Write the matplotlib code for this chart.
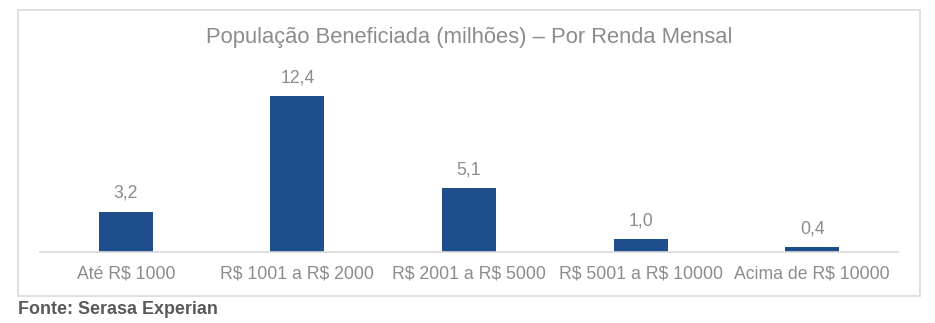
import matplotlib
matplotlib.use("Agg")
import matplotlib.pyplot as plt
from matplotlib.patches import Rectangle

categories = ["Até R$ 1000", "R$ 1001 a R$ 2000", "R$ 2001 a R$ 5000",
              "R$ 5001 a R$ 10000", "Acima de R$ 10000"]
values = [3.2, 12.4, 5.1, 1.0, 0.4]
title = "População Beneficiada (milhões) – Por Renda Mensal"
source = "Fonte: Serasa Experian"

plt.rcParams["font.family"] = ["Liberation Sans", "DejaVu Sans"]
plt.rcParams["text.parse_math"] = False

W, H = 935, 323
fig = plt.figure(figsize=(W / 100, H / 100), dpi=100)

def fx(px):
    return px / W

def fy(py):
    return 1 - py / H

# chart frame
fig.patches.append(Rectangle((fx(18), fy(296)), fx(920) - fx(18), fy(10) - fy(296),
                             transform=fig.transFigure, fill=False,
                             edgecolor="#D9D9D9", linewidth=1.2))

ymax = 15.0
px_per_unit = 12.6
ax_left, ax_right, ax_bottom = 40, 898, 252
ax_top = ax_bottom - ymax * px_per_unit
ax = fig.add_axes([fx(ax_left), fy(ax_bottom), fx(ax_right) - fx(ax_left),
                   fy(ax_top) - fy(ax_bottom)])

x = list(range(len(categories)))
bars = ax.bar(x, values, width=0.315, color="#1F4E8C")
ax.set_xlim(-0.5, len(categories) - 0.5)
ax.set_ylim(0, ymax)

for b, v in zip(bars, values):
    ax.annotate(f"{v:.1f}".replace(".", ","),
                (b.get_x() + b.get_width() / 2, v),
                xytext=(0, 7), textcoords="offset points",
                ha="center", va="bottom", fontsize=12.7, color="#8C8C8C")

ax.set_xticks(x)
ax.set_xticklabels(categories, fontsize=12.7, color="#8C8C8C")
ax.tick_params(axis="x", length=0, pad=9.5)
ax.set_yticks([])
for s in ["top", "right", "left"]:
    ax.spines[s].set_visible(False)
ax.spines["bottom"].set_color("#D9D9D9")
ax.spines["bottom"].set_linewidth(1.2)

fig.text(fx(469), fy(38), title, ha="center", va="center",
         fontsize=15.8, color="#8C8C8C")
fig.text(fx(18), fy(314), source, ha="left", va="baseline",
         fontsize=12.9, fontweight="bold", color="#595959")

fig.savefig("out.png", dpi=100, facecolor="white")
